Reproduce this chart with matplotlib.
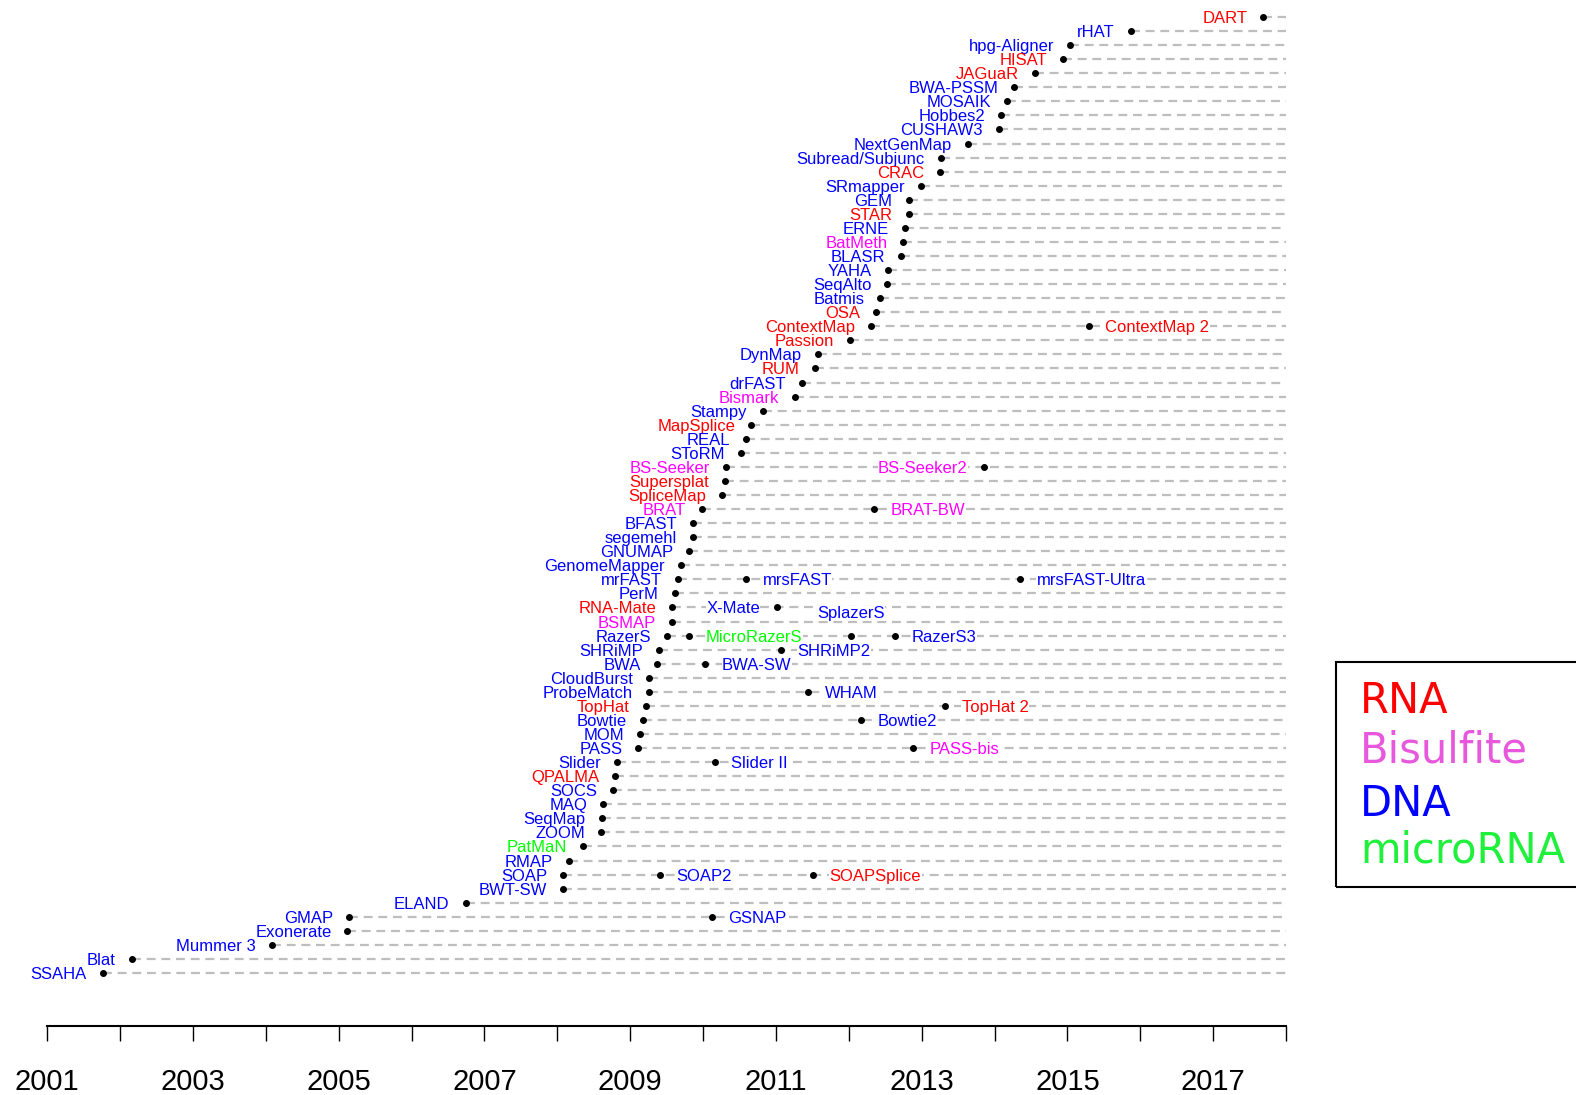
import matplotlib
matplotlib.use('Agg')
import matplotlib.pyplot as plt
from matplotlib.patches import Rectangle
from matplotlib.ticker import MultipleLocator


# tools, listed from the newest (top row) to the oldest (bottom row)
tool_names = ['DART', 'rHAT', 'hpg-Aligner', 'HISAT', 'JAGuaR', 'BWA-PSSM', 'MOSAIK', 'Hobbes2',
              'CUSHAW3', 'NextGenMap', 'Subread/Subjunc', 'CRAC', 'SRmapper', 'GEM', 'STAR', 'ERNE',
              'BatMeth', 'BLASR', 'YAHA', 'SeqAlto', 'Batmis', 'OSA', 'ContextMap', 'Passion',
              'DynMap', 'RUM', 'drFAST', 'Bismark', 'Stampy', 'MapSplice', 'REAL', 'SToRM',
              'BS-Seeker', 'Supersplat', 'SpliceMap', 'BRAT', 'BFAST', 'segemehl', 'GNUMAP',
              'GenomeMapper', 'mrFAST', 'PerM', 'RNA-Mate', 'BSMAP', 'RazerS', 'SHRiMP', 'BWA',
              'CloudBurst', 'ProbeMatch', 'TopHat', 'Bowtie', 'MOM', 'PASS', 'Slider', 'QPALMA',
              'SOCS', 'MAQ', 'SeqMap', 'ZOOM', 'PatMaN', 'RMAP', 'SOAP', 'BWT-SW', 'ELAND', 'GMAP',
              'Exonerate', 'Mummer 3', 'Blat', 'SSAHA']
tool_years = [2017.69, 2015.87, 2015.04, 2014.94, 2014.56, 2014.27, 2014.17, 2014.09,
              2014.06, 2013.63, 2013.26, 2013.25, 2012.99, 2012.82, 2012.82, 2012.77,
              2012.75, 2012.72, 2012.54, 2012.53, 2012.43, 2012.37, 2012.30, 2012.01,
              2011.58, 2011.54, 2011.36, 2011.26, 2010.82, 2010.66, 2010.59, 2010.52,
              2010.31, 2010.30, 2010.26, 2009.98, 2009.86, 2009.86, 2009.81,
              2009.70, 2009.66, 2009.61, 2009.58, 2009.57, 2009.51, 2009.39, 2009.37,
              2009.26, 2009.26, 2009.21, 2009.17, 2009.14, 2009.11, 2008.82, 2008.79,
              2008.77, 2008.63, 2008.61, 2008.60, 2008.35, 2008.16, 2008.08, 2008.08, 2006.74, 2005.14,
              2005.12, 2004.08, 2002.16, 2001.76]
tool_types = ['RNA', 'DNA', 'DNA', 'RNA', 'RNA', 'DNA', 'DNA', 'DNA',
              'DNA', 'DNA', 'DNA', 'RNA', 'DNA', 'DNA', 'RNA', 'DNA',
              'Bisulfite', 'DNA', 'DNA', 'DNA', 'DNA', 'RNA', 'RNA', 'RNA',
              'DNA', 'RNA', 'DNA', 'Bisulfite', 'DNA', 'RNA', 'DNA', 'DNA',
              'Bisulfite', 'RNA', 'RNA', 'Bisulfite', 'DNA', 'DNA', 'DNA',
              'DNA', 'DNA', 'DNA', 'RNA', 'Bisulfite', 'DNA', 'DNA', 'DNA',
              'DNA', 'DNA', 'RNA', 'DNA', 'DNA', 'DNA', 'DNA', 'RNA',
              'DNA', 'DNA', 'DNA', 'DNA', 'microRNA', 'DNA', 'DNA', 'DNA', 'DNA', 'DNA',
              'DNA', 'DNA', 'DNA', 'DNA']

# later versions, drawn on the row of the tool they grew out of
update_names = ['ContextMap 2', 'BS-Seeker2', 'BRAT-BW', 'mrsFAST', 'mrsFAST-Ultra', 'X-Mate',
                'MicroRazerS', 'SplazerS', 'RazerS3', 'SHRiMP2', 'BWA-SW', 'WHAM', 'TopHat 2',
                'Bowtie2', 'PASS-bis', 'Slider II', 'SOAP2', 'SOAPSplice', 'GSNAP']
update_rows = ['ContextMap', 'BS-Seeker', 'BRAT', 'mrFAST', 'mrFAST', 'RNA-Mate',
               'RazerS', 'RazerS', 'RazerS', 'SHRiMP', 'BWA', 'ProbeMatch', 'TopHat',
               'Bowtie', 'PASS', 'Slider', 'SOAP', 'SOAP', 'GMAP']
update_years = [2015.29, 2013.86, 2012.34, 2010.59, 2014.35, 2011.01,
                2009.81, 2012.03, 2012.64, 2011.07, 2010.03, 2011.44, 2013.32,
                2012.17, 2012.88, 2010.16, 2009.41, 2011.51, 2010.12]
update_types = ['RNA', 'Bisulfite', 'Bisulfite', 'DNA', 'DNA', 'DNA',
                'microRNA', 'DNA', 'DNA', 'DNA', 'DNA', 'DNA', 'RNA',
                'DNA', 'Bisulfite', 'DNA', 'DNA', 'RNA', 'DNA']
update_sides = ['right', 'left', 'right', 'right', 'right', 'left',
                'right', 'above', 'right', 'right', 'right', 'right', 'right',
                'right', 'right', 'right', 'right', 'right', 'right']

legend_labels = ['RNA', 'Bisulfite', 'DNA', 'microRNA']

text_colors = {'RNA': '#ff0000', 'Bisulfite': '#ff00ff', 'DNA': '#0000ff', 'microRNA': '#00ff00'}
legend_colors = {'RNA': '#ff0000', 'Bisulfite': '#e858dc', 'DNA': '#0000ff', 'microRNA': '#1ef03c'}

label_font = 'Liberation Sans'
white_box = dict(boxstyle='square,pad=0.02', fc='white', ec='none')

fig = plt.figure(figsize=(15.76, 10.95), dpi=100)
ax = fig.add_axes([0.030, 0.063, 0.786, 0.9343])

n = len(tool_names)
row_of = {}
for i, (name, year, kind) in enumerate(zip(tool_names, tool_years, tool_types)):
    row = n - i
    row_of[name] = row
    ax.plot([year, 2018], [row, row], color='#bebebe', lw=1.6, dashes=(4.0, 2.6), zorder=1)
    ax.plot(year, row, 'o', color='black', ms=4, zorder=3)
    ax.annotate(name, (year, row), xytext=(-11.5, 0), textcoords='offset points',
                ha='right', va='center_baseline', color=text_colors[kind], fontsize=12,
                family=label_font, zorder=2, annotation_clip=False)

for name, row_name, year, kind, side in zip(update_names, update_rows, update_years,
                                            update_types, update_sides):
    row = row_of[row_name]
    ax.plot(year, row, 'o', color='black', ms=4, zorder=3)
    if side == 'right':
        off, ha = (12, 0), 'left'
    elif side == 'left':
        off, ha = (-12, 0), 'right'
    else:
        off, ha = (0, 17), 'center'
    ax.annotate(name, (year, row), xytext=off, textcoords='offset points',
                ha=ha, va='center_baseline', color=text_colors[kind], fontsize=12,
                family=label_font, bbox=white_box, zorder=2, annotation_clip=False)

ax.set_xlim(2001, 2018)
ax.set_ylim(-2.77, n + 1)
for side in ['left', 'right', 'top']:
    ax.spines[side].set_visible(False)
ax.spines['bottom'].set_linewidth(1.5)
ax.set_yticks([])
ax.xaxis.set_major_locator(MultipleLocator(2, offset=1))
ax.xaxis.set_minor_locator(MultipleLocator(1))
ax.tick_params(axis='x', which='both', direction='out', length=11, width=1, color='black')
ax.tick_params(axis='x', which='major', pad=19, labelsize=21)
for lbl in ax.get_xticklabels():
    lbl.set_family(label_font)

# legend box, running off the right edge
fig.add_artist(Rectangle((0.848, 0.190), 0.2, 0.2055, transform=fig.transFigure,
                         fill=False, ec='black', lw=1.5, clip_on=False))
legend_y = [0.3489, 0.3032, 0.2548, 0.2119]
for lab, y in zip(legend_labels, legend_y):
    fig.text(0.863, y, lab, color=legend_colors[lab], fontsize=30, va='baseline',
             family='DejaVu Sans')

fig.savefig('out.png', dpi=100)
